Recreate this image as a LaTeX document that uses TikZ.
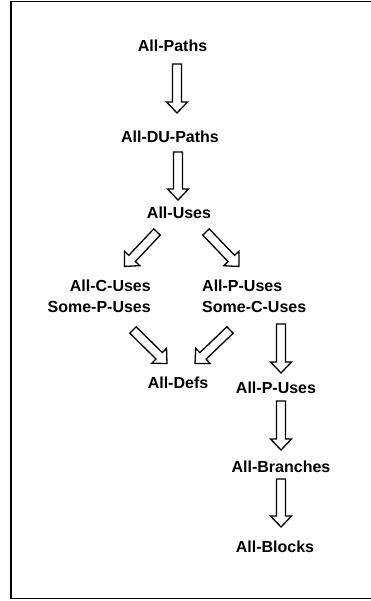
\documentclass[tikz,border=0pt]{standalone}
\usepackage{fontspec}
\setmainfont{Liberation Sans}
\usetikzlibrary{calc}
\tikzset{
  lbl/.style={font=\bfseries\fontsize{16}{21}\selectfont, inner sep=0pt},
  barrow/.style={draw=black, fill=white, line width=1.3pt, line join=miter},
  frameline/.style={draw=black, line width=1.6pt}
}
\newcommand\blockarr[2]{%
  \path let \p1=(#1), \p2=(#2), \n1={atan2(\y2-\y1,\x2-\x1)}, \n2={veclen(\x2-\x1,\y2-\y1)} in
    \pgfextra{\xdef\baang{\n1}\xdef\balen{\n2}};
  \draw[barrow, shift={(#1)}, rotate=\baang]
    (0pt,4.5pt) -- ({\balen-11pt},4.5pt) -- ({\balen-11pt},10.5pt) -- ({\balen},0pt)
    -- ({\balen-11pt},-10.5pt) -- ({\balen-11pt},-4.5pt) -- (0pt,-4.5pt) -- cycle;
}
\begin{document}
\begin{tikzpicture}[x=1pt,y=-1pt]
\useasboundingbox (0,0) rectangle (370,601);
\draw[frameline] (371,1.5) -- (11,1.5) -- (11,598.5) -- (371,598.5);

\node[lbl, anchor=base] (ap) at (172.5,52) {All-Paths};
\node[lbl, anchor=base] (adu) at (170,143) {All-DU-Paths};
\node[lbl, anchor=base] (au) at (179,219) {All-Uses};
\node[lbl, anchor=east, align=right] (acu) at (151,296) {All-C-Uses\\Some-P-Uses};
\node[lbl, anchor=west, align=left] (apu) at (202,296) {All-P-Uses\\Some-C-Uses};
\node[lbl, anchor=base] (ad) at (178,388) {All-Defs};
\node[lbl, anchor=base] (apu2) at (276,393) {All-P-Uses};
\node[lbl, anchor=base] (ab) at (281,472) {All-Branches};
\node[lbl, anchor=base] (abl) at (275,552) {All-Blocks};

\coordinate (a1s) at (177,64);  \coordinate (a1e) at (177,113);
\coordinate (a2s) at (178,152); \coordinate (a2e) at (178,200);
\coordinate (a3s) at (157,232); \coordinate (a3e) at (124.5,266.5);
\coordinate (a4s) at (206,232); \coordinate (a4e) at (239,266.5);
\coordinate (a5s) at (133,330); \coordinate (a5e) at (167,363.5);
\coordinate (a6s) at (230,330); \coordinate (a6e) at (195,363.5);
\coordinate (a7s) at (281,324); \coordinate (a7e) at (281,373);
\coordinate (a8s) at (281,401); \coordinate (a8e) at (281,450);
\coordinate (a9s) at (281,479); \coordinate (a9e) at (281,527);

\blockarr{a1s}{a1e}
\blockarr{a2s}{a2e}
\blockarr{a3s}{a3e}
\blockarr{a4s}{a4e}
\blockarr{a5s}{a5e}
\blockarr{a6s}{a6e}
\blockarr{a7s}{a7e}
\blockarr{a8s}{a8e}
\blockarr{a9s}{a9e}
\end{tikzpicture}
\end{document}
